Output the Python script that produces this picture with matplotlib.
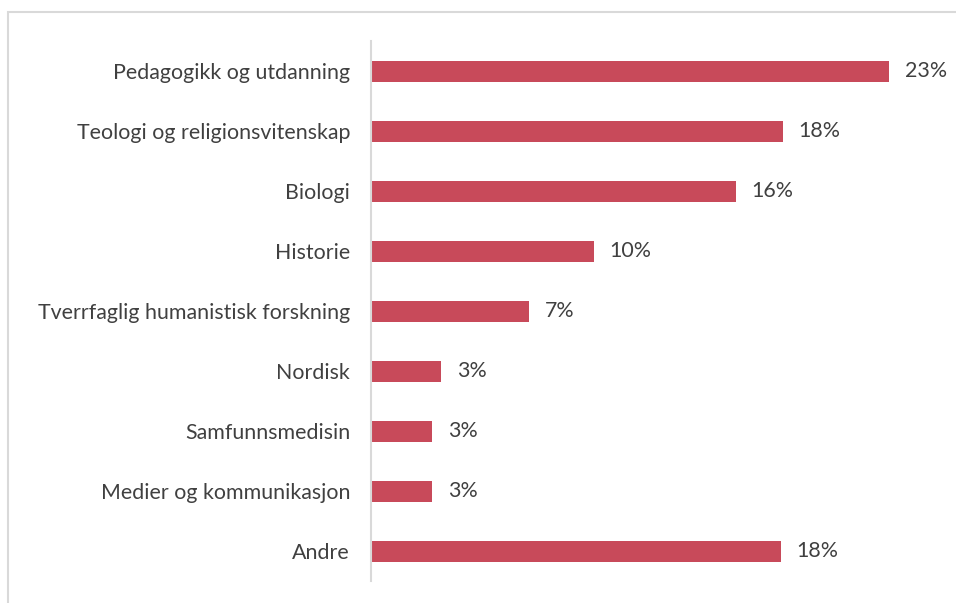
import matplotlib
matplotlib.use("Agg")
import matplotlib.pyplot as plt
from matplotlib.patches import Rectangle

categories = ["Pedagogikk og utdanning", "Teologi og religionsvitenskap", "Biologi",
              "Historie", "Tverrfaglig humanistisk forskning", "Nordisk",
              "Samfunnsmedisin", "Medier og kommunikasjon", "Andre"]
values = [23.0, 18.3, 16.2, 9.9, 7.0, 3.1, 2.7, 2.7, 18.2]
value_labels = ["23%", "18%", "16%", "10%", "7%", "3%", "3%", "3%", "18%"]

bar_color = "#C84A5A"
text_color = "#404040"
font = "Lato"
fs = 15.4

W, H = 956, 603
fig = plt.figure(figsize=(W / 100, H / 100), dpi=100)
fig.patch.set_facecolor("white")

left, right = 371 / W, 933.5 / W
top, bottom = 1 - 41 / H, 1 - 581 / H
ax = fig.add_axes([left, bottom, right - left, top - bottom])

y = list(range(len(categories)))
ax.barh(y, values, height=0.35, color=bar_color, zorder=2)
ax.set_xlim(0, 25)
ax.set_ylim(len(categories) - 0.5, -0.5)
ax.set_yticks(y)
ax.set_yticklabels(categories, fontsize=fs, color=text_color, family=font)
ax.tick_params(axis="y", length=0, pad=15)
ax.set_xticks([])
for s in ["top", "right", "bottom"]:
    ax.spines[s].set_visible(False)
ax.spines["left"].set_color("#d9d9d9")
ax.spines["left"].set_linewidth(1.5)

for yi, v, lab in zip(y, values, value_labels):
    ax.annotate(lab, (v, yi), xytext=(16, 0), textcoords="offset pixels",
                va="center", ha="left", fontsize=fs, color=text_color, family=font)

border = Rectangle((8 / W, -0.1), 1.2, 1 - 12 / H + 0.1, transform=fig.transFigure,
                   fill=False, edgecolor="#d9d9d9", linewidth=1.5)
fig.add_artist(border)

fig.savefig("out.png", dpi=100)
